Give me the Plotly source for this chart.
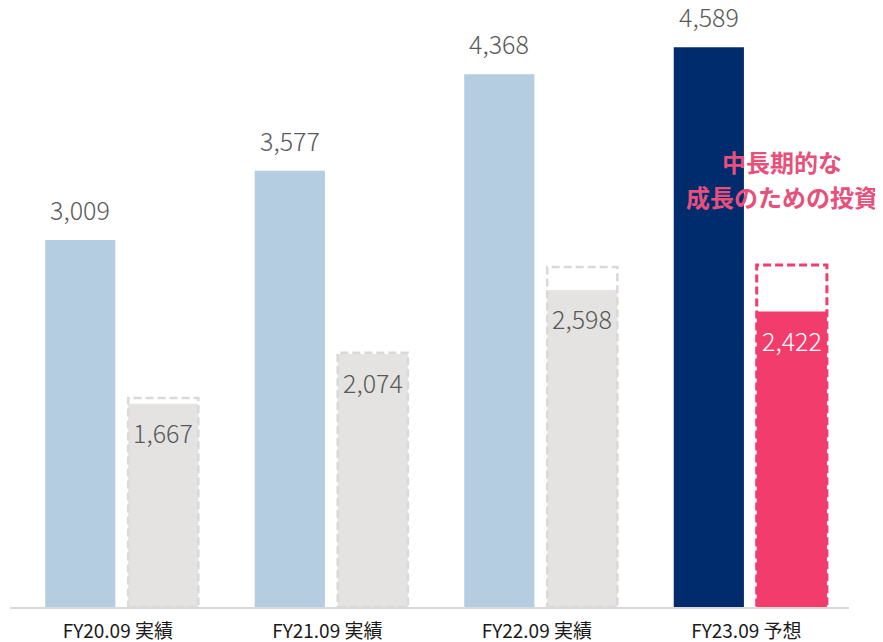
import plotly.graph_objects as go

categories = ["FY20.09 実績", "FY21.09 実績", "FY22.09 実績", "FY23.09 予想"]
revenue = [3009, 3577, 4368, 4589]
profit = [1667, 2074, 2598, 2422]
outline = [1714, 2085, 2788, 2804]
note_lines = ["中長期的な", "成長のための投資"]

rev_colors = ["#b4cde1", "#b4cde1", "#b4cde1", "#002c6e"]
pro_colors = ["#e4e3e1", "#e4e3e1", "#e4e3e1", "#f23d6c"]
dash_colors = ["#d9d9d9", "#d9d9d9", "#d9d9d9", "#f23d6c"]
pro_text_colors = ["#595959", "#595959", "#595959", "#ffffff"]

FONT = "Noto Sans CJK JP"
off = 0.198
w = 0.335
xs = list(range(len(categories)))

fig = go.Figure()
fig.add_trace(go.Bar(x=[x - off for x in xs], y=revenue, width=w,
                     marker=dict(color=rev_colors, line=dict(width=0)),
                     hoverinfo="skip"))
fig.add_trace(go.Bar(x=[x + off for x in xs], y=profit, width=w,
                     marker=dict(color=pro_colors, line=dict(width=0)),
                     hoverinfo="skip"))

shapes = []
for i, v in enumerate(outline):
    shapes.append(dict(type="rect", xref="x", yref="y",
                       x0=i + off - w / 2, x1=i + off + w / 2, y0=0, y1=v,
                       line=dict(color=dash_colors[i], width=3 if i == 3 else 2.5,
                                 dash="8px,4px"),
                       fillcolor="rgba(0,0,0,0)", layer="above"))

annotations = []
for i, v in enumerate(revenue):
    annotations.append(dict(x=i - off, y=v, xref="x", yref="y", text=f"{v:,}",
                            showarrow=False, yanchor="middle", yshift=31,
                            font=dict(family=FONT, size=25, color="#595959", weight=300)))
for i, v in enumerate(profit):
    annotations.append(dict(x=i + off, y=v, xref="x", yref="y", text=f"{v:,}",
                            showarrow=False, yanchor="middle", yshift=-28,
                            font=dict(family=FONT, size=25, color=pro_text_colors[i], weight=300)))
for j, line in enumerate(note_lines):
    annotations.append(dict(x=3.15, y=0.743 - j * 0.0585, xref="x", yref="paper", text=line,
                            showarrow=False, yanchor="middle",
                            font=dict(family=FONT, size=24, color="#e8507c", weight="bold")))

fig.update_layout(
    width=875, height=634,
    margin=dict(l=2, r=34, t=0, b=35),
    plot_bgcolor="white", paper_bgcolor="white",
    showlegend=False, barmode="overlay",
    shapes=shapes, annotations=annotations,
    xaxis=dict(range=[-0.5335, 3.471], tickmode="array", tickvals=xs,
               ticktext=categories, showgrid=False, zeroline=False,
               showline=True, linecolor="#d9d9d9", linewidth=1.5,
               ticks="outside", ticklen=6, tickcolor="rgba(0,0,0,0)",
               ticklabelshift=-4, automargin=False,
               tickfont=dict(family=FONT, size=19, color="#1a1a1a")),
    yaxis=dict(range=[0, 4911], visible=False),
)
fig.write_html("out.html")
